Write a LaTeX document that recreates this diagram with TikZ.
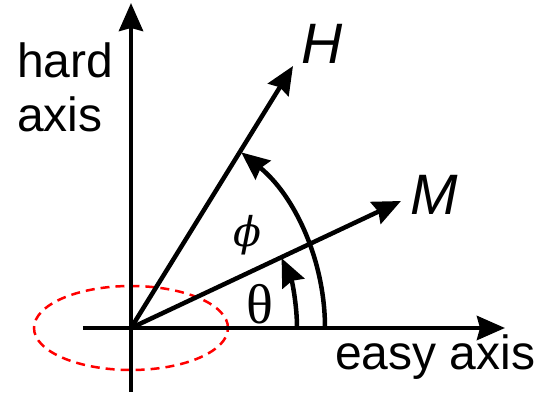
\documentclass[tikz,border=0pt]{standalone}
\usepackage{fontspec}
\setmainfont{Liberation Sans}
\newfontfamily\thetafont{Liberation Serif}
\newfontfamily\phifont{DejaVu Serif}
\usetikzlibrary{arrows.meta, calc}

\begin{document}
\begin{tikzpicture}[x=1pt, y=1pt, line width=4.5pt,
    vec/.style={-{Stealth[length=28pt, width=24pt, inset=3pt]}},
    axislbl/.style={inner sep=0pt, font=\fontsize{48}{54}\selectfont},
    veclbl/.style={inner sep=0pt, font=\fontsize{57}{60}\selectfont\itshape}]
    % keep the margins of the figure
    \useasboundingbox (-131,-65) rectangle (411,328);

    % origin and ends of the axes and vectors
    \coordinate (O) at (0,0);
    \coordinate (hardlo) at (0,-64);
    \coordinate (hardhi) at (0,325);
    \coordinate (easylo) at (-48,0);
    \coordinate (easyhi) at (374,0);
    \coordinate (Htip) at (162,262);
    \coordinate (Mtip) at (270,127);

    % dashed red ellipse round the origin
    \draw[red, line width=2.5pt, dash pattern=on 9pt off 6pt] (O) ellipse [x radius=97, y radius=42];

    % axes
    \draw[vec] (hardlo) -- (hardhi);
    \draw[vec] (easylo) -- (easyhi);

    % field H and magnetisation M
    \draw[vec] (O) -- (Htip);
    \draw[vec] (O) -- (Mtip);

    % angle arcs
    \draw[vec] (194,0) arc [start angle=0, end angle=51, radius=226];
    \draw[vec] (166,0) arc [start angle=0, end angle=24.9, radius=166];

    % labels
    \node[axislbl, anchor=north west, align=left] (hard) at (-116,288) {hard\\axis};
    \node[axislbl, anchor=base west] (easy) at (202,-42) {easy axis};
    \node[veclbl] (Hlab) at (191,284) {H};
    \node[veclbl] (Mlab) at (303,133) {M};
    \node[inner sep=0pt, font=\fontsize{41}{44}\selectfont\phifont\itshape] (phi) at (116,93) {ϕ};
    \node[inner sep=0pt, font=\fontsize{56}{60}\selectfont\thetafont] (theta) at (129,24) {θ};
\end{tikzpicture}
\end{document}
